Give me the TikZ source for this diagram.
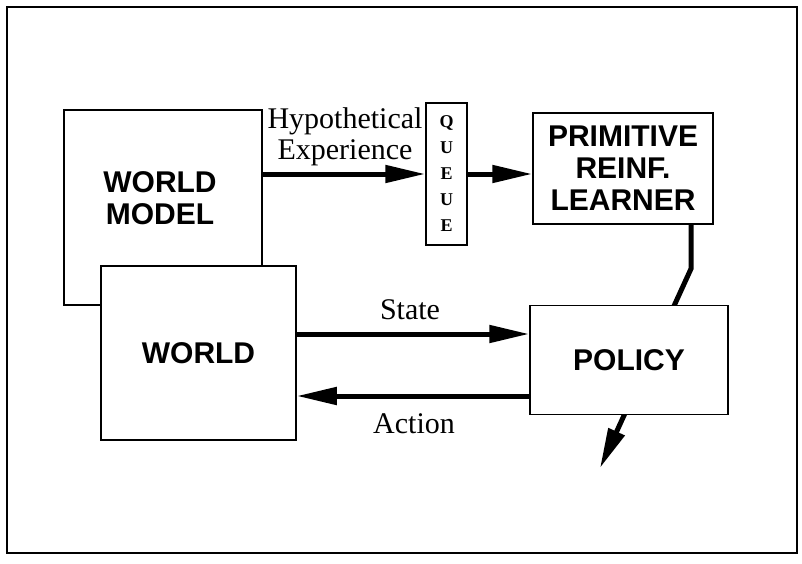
\documentclass[tikz,border=0pt]{standalone}
\usepackage{fontspec}
\setmainfont{Liberation Serif}
\setsansfont{Liberation Sans}
\usetikzlibrary{arrows.meta}

\tikzset{
  blk/.style={draw, line width=1.5pt, fill=white, inner sep=0pt},
  blktxt/.style={font=\fontsize{30}{32}\selectfont\sffamily\bfseries, align=center},
  qtxt/.style={font=\fontsize{18}{26}\selectfont\bfseries, align=center},
  lbl/.style={font=\fontsize{30}{31}\selectfont, align=center},
  fat/.style={line width=5pt, -{Triangle[length=40pt,width=17pt]}},
}

\begin{document}
\begin{tikzpicture}[x=1pt,y=-1pt]
    \useasboundingbox (0,0) rectangle (802,564);
    % Outer frame
    \draw[line width=2pt] (7,7) rectangle (797,553);

    % World model sits behind the world
    \node[blk, minimum width=198pt, minimum height=195pt] (model) at (163,207.5) {};
    \node[blktxt] (modeltxt) at (160,198) {WORLD\\MODEL};
    \node[blk, blktxt, minimum width=195pt, minimum height=174pt] (world) at (198.5,353) {WORLD};

    % Queue and learner
    \node[blk, qtxt, minimum width=41pt, minimum height=142pt] (queue) at (446.5,174) {Q\\U\\E\\U\\E};
    \node[blk, blktxt, minimum width=180pt, minimum height=111pt] (learner) at (623,168.5) {PRIMITIVE\\REINF.\\LEARNER};

    % Learner reaches through the policy box
    \coordinate (out) at (600,468);
    \draw[fat] ([xshift=68pt]learner.south) -- ++(0,44) -- (out);
    \node[blk, blktxt, minimum width=198pt, minimum height=109pt] (policy) at (629,360) {POLICY};

    % Experience and the loop
    \draw[fat] (model.east |- queue.west) -- (queue.west);
    \draw[fat] (queue.east) -- (queue.east -| learner.west);
    \draw[fat] ([yshift=19pt]world.east) -- ([yshift=19pt]world.east -| policy.west);
    \draw[fat] ([yshift=-36pt]policy.west) -- ([yshift=-36pt]policy.west -| world.east);

    % Labels
    \node[lbl] (hyp) at (345,137) {Hypothetical\\Experience};
    \node[lbl] (state) at (410,310) {State};
    \node[lbl] (action) at (414,424) {Action};
\end{tikzpicture}
\end{document}
